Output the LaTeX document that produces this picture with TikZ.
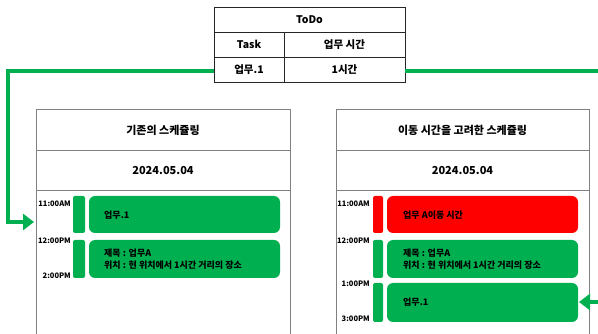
\documentclass[tikz,border=0pt]{standalone}
\usepackage{fontspec}
\setmainfont{Noto Sans CJK KR}
\usetikzlibrary{arrows.meta}
\definecolor{okgreen}{HTML}{00B050}
\definecolor{okred}{HTML}{FF0000}
\definecolor{framegray}{HTML}{808080}
\begin{document}
\begin{tikzpicture}[x=1pt,y=-1pt,
  cell/.style={draw=black!85,line width=0.8pt,inner sep=0pt,font=\fontsize{10.5}{12}\selectfont\bfseries},
  panel/.style={draw=framegray,line width=0.9pt},
  title/.style={font=\fontsize{11}{13}\selectfont\bfseries},
  timelbl/.style={anchor=east,inner sep=0pt,font=\fontsize{7.5}{8.5}\selectfont\bfseries},
  bar/.style={fill=okgreen,rounded corners=2pt},
  gbox/.style={fill=okgreen,rounded corners=6pt},
  rbox/.style={fill=okred,rounded corners=6pt},
  boxtxt/.style={anchor=west,inner sep=0pt,align=left,font=\fontsize{9}{11.5}\selectfont\bfseries},
  conn/.style={draw=okgreen,line width=3.5pt,-{Triangle[length=11pt,width=16pt]}}]
\useasboundingbox (0,0) rectangle (598,334);
\clip (0,0) rectangle (598,334);
\fill[white] (0,0) rectangle (598,334);

% ToDo table
\node[cell,minimum width=191pt,minimum height=25pt] (todo) at (309.5,19.5) {ToDo};
\node[cell,minimum width=70pt,minimum height=25pt] (task) at (249,44.5) {Task};
\node[cell,minimum width=121pt,minimum height=25pt] (time) at (344.5,44.5) {업무 시간};
\node[cell,minimum width=70pt,minimum height=25pt] (job) at (249,69.5) {업무.1};
\node[cell,minimum width=121pt,minimum height=25pt] (hour) at (344.5,69.5) {1시간};

% left panel
\draw[panel] (36,340) -- (36,109) -- (290,109) -- (290,340);
\draw[panel] (36,150) -- (290,150);
\draw[panel] (36,190) -- (290,190);
\node[title] (ltitle) at (163,130) {기존의 스케쥴링};
\node[title] (ldate) at (163,171) {2024.05.04};

\fill[bar] (73,196) rectangle (85,233);
\fill[bar] (73,240) rectangle (85,278);
\fill[gbox] (89,196) rectangle (280,233);
\fill[gbox] (89,240) rectangle (280,278);
\node[timelbl] (l11) at (71,204) {11:00AM};
\node[timelbl] (l12) at (71,241) {12:00PM};
\node[timelbl] (l2) at (71,276) {2:00PM};
\node[boxtxt] (ljob) at (104,215) {업무.1};
\node[boxtxt] (ltask) at (104,259) {제목 : 업무A\\위치 : 현 위치에서 1시간 거리의 장소};
\coordinate (ltarget) at (34,222);

% right panel
\draw[panel] (336,340) -- (336,109) -- (589,109) -- (589,340);
\draw[panel] (336,150) -- (589,150);
\draw[panel] (336,190) -- (589,190);
\node[title] (rtitle) at (462.5,130) {이동 시간을 고려한 스케쥴링};
\node[title] (rdate) at (462.5,171) {2024.05.04};

\fill[bar,fill=okred] (373,196) rectangle (383,233);
\fill[bar] (373,240) rectangle (383,278);
\fill[bar] (373,283) rectangle (383,322);
\fill[rbox] (387,196) rectangle (578,233);
\fill[gbox] (387,240) rectangle (578,278);
\fill[gbox] (387,283) rectangle (578,322);
\node[timelbl] (r11) at (370,204) {11:00AM};
\node[timelbl] (r12) at (370,241) {12:00PM};
\node[timelbl] (r1) at (370,284) {1:00PM};
\node[timelbl] (r3) at (370,319) {3:00PM};
\node[boxtxt] (rmove) at (403,215) {업무 A이동 시간};
\node[boxtxt] (rtask) at (403,259) {제목 : 업무A\\위치 : 현 위치에서 1시간 거리의 장소};
\node[boxtxt] (rjob) at (403,302) {업무.1};
\coordinate (rtarget) at (579,302);

% connectors
\draw[conn] (job.west |- 0,71) -- (8,71) -- (8,222) -- (ltarget);
\draw[conn] (hour.east |- 0,71) -- (610,71) -- (610,302) -- (rtarget);
\end{tikzpicture}
\end{document}
